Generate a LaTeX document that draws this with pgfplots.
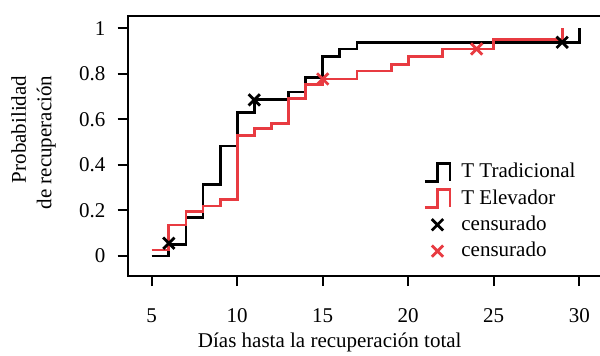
\documentclass[border=0pt]{standalone}
\usepackage{fontspec}
\setmainfont{Liberation Serif}
\usepackage{pgfplots}
\pgfplotsset{compat=1.18}
\definecolor{kmred}{RGB}{232,59,65}
\pgfplotsset{
  steplegend/.style={legend image code/.code={\draw[##1] (0pt,-4.5pt) -- (6.3pt,-4.5pt) -- (6.3pt,4.5pt) -- (12.5pt,4.5pt) -- (12.5pt,-4.5pt); \path (15.5pt,0pt);}},
  marklegend/.style={legend image code/.code={\draw[##1] plot coordinates {(6.25pt,0pt)}; \path (0pt,0pt) (15.5pt,0pt);}},
}
\begin{document}
\fontsize{10.5}{12.75}\selectfont
\begin{tikzpicture}
\useasboundingbox (-63.85pt,-39.5pt) rectangle (236.15pt,138pt);
\begin{axis}[
  at={(0,0)}, anchor=south west,
  scale only axis,
  width=237.15pt, height=130.15pt,
  xmin=3.596, xmax=31.33,
  ymin=-0.088, ymax=1.056,
  xtick={5,10,...,30},
  ytick={0,0.2,0.4,0.6,0.8,1},
  yticklabels={0,0.2,0.4,0.6,0.8,1},
  /pgf/number format/assume math mode=true,
  xtick pos=bottom, ytick pos=left,
  tick align=outside,
  major tick length=5pt,
  every tick/.style={black, line width=1pt},
  axis line style={line width=1pt},
  xticklabel style={font=\fontsize{10.5}{12}\selectfont, yshift=-7.5pt},
  yticklabel style={font=\fontsize{10.5}{12}\selectfont, xshift=-2.5pt},
  xlabel={Días hasta la recuperación total},
  ylabel={Probabilidad\\de recuperación},
  every axis x label/.style={at={(axis description cs:0.426,0)}, anchor=base, yshift=-35.6pt},
  every axis y label/.style={at={(axis description cs:0,0.513)}, xshift=-47pt, rotate=90, anchor=center, align=right},
  legend cell align=left,
  legend style={draw=none, fill=none, at={(0.623,0.45)}, anchor=north west, inner sep=0pt,
    row sep=0.3pt, font=\fontsize{10.5}{12}\selectfont},
]
\addplot[black, line width=1.4pt, const plot, steplegend]
  coordinates {(5,0) (6,0.051) (7,0.17) (8,0.315) (9,0.483) (10,0.63) (11,0.689) (13,0.721) (14,0.784) (15,0.876) (16,0.910) (17,0.939) (30,1.0)};
\addlegendentry{T Tradicional}
\addplot[kmred, line width=1.4pt, const plot, steplegend]
  coordinates {(5,0.026) (6,0.136) (7,0.196) (8,0.22) (9,0.249) (10,0.529) (11,0.560) (12,0.583) (13,0.693) (14,0.752) (15,0.778) (17,0.813) (19,0.843) (20,0.876) (22,0.910) (25,0.952) (29,1.0)};
\addlegendentry{T Elevador}
\addplot[only marks, mark=x, mark size=4pt, black, line width=1.4pt, marklegend]
  coordinates {(6,0.056) (11,0.686) (29,0.939)};
\addlegendentry{censurado}
\addplot[only marks, mark=x, mark size=4pt, kmred, line width=1.4pt, marklegend]
  coordinates {(15,0.778) (24,0.910)};
\addlegendentry{censurado}
\end{axis}
\end{tikzpicture}
\end{document}
